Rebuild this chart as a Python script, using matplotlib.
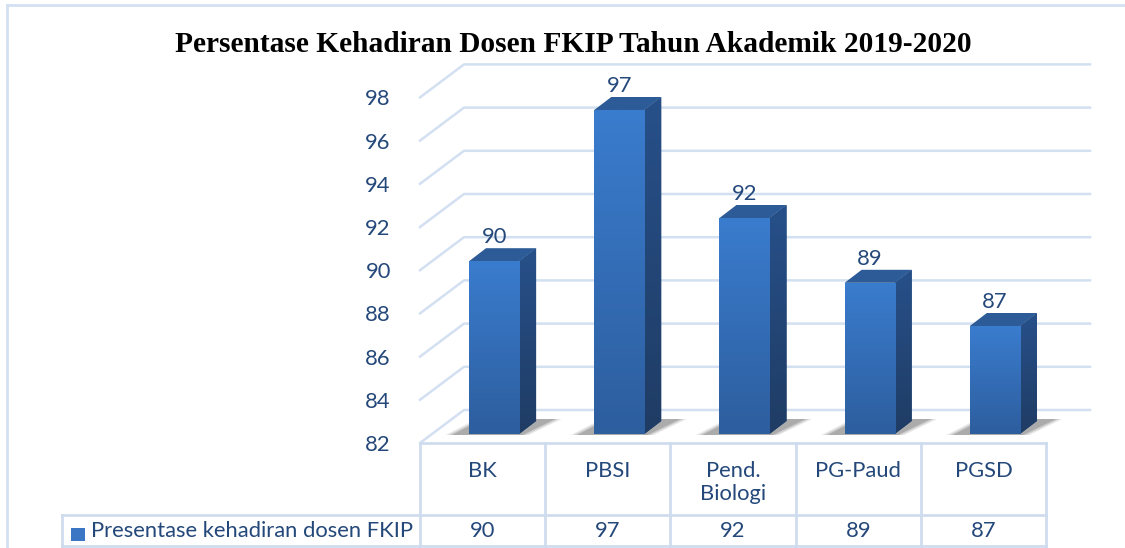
import numpy as np
import matplotlib
matplotlib.use("Agg")
import matplotlib.pyplot as plt
from matplotlib.patches import Polygon, Rectangle
from matplotlib.lines import Line2D
from matplotlib.colors import LinearSegmentedColormap

# data
categories = ["BK", "PBSI", "Pend.\nBiologi", "PG-Paud", "PGSD"]
values = [90, 97, 92, 89, 87]
series_name = "Presentase kehadiran dosen FKIP"
title = "Persentase Kehadiran Dosen FKIP Tahun Akademik 2019-2020"
yticks = list(range(82, 99, 2))

W, H = 1125, 548
txt_col = "#24487a"
grid_col = "#d3e0f1"
font = "Lato"
fs = 15.8

fig = plt.figure(figsize=(W / 100, H / 100), dpi=100)
# front plot area in pixels: x 420..1046, y 443..97
ax_l, ax_r, ax_b, ax_t = 420, 1046, 443, 97.4
ax = fig.add_axes([ax_l / W, 1 - ax_b / H, (ax_r - ax_l) / W, (ax_b - ax_t) / H])
ax.set_xlim(-0.5, 4.5)
ax.set_ylim(82, 98)
for s in ax.spines.values():
    s.set_visible(False)
ax.set_xticks([])
ax.set_yticks(yticks)
ax.tick_params(axis="y", length=0, pad=21, labelsize=fs, labelcolor=txt_col)
for lab in ax.get_yticklabels():
    lab.set_fontfamily(font)
ax.patch.set_alpha(0)

# pixel -> data unit helpers
ppx = (ax_r - ax_l) / 5.0
ppy = (ax_b - ax_t) / 16.0
def dx(px):
    return px / ppx
def dy(px):
    return px / ppy

# depth of the 3d box
DX, DY = dx(44), dy(33)

# walls / gridlines
for t in yticks:
    ax.add_line(Line2D([-0.5, -0.5 + DX, 4.5 + DX], [t, t + DY, t + DY],
                       color=grid_col, lw=1.8, clip_on=False, zorder=1))

# bars
bw = 0.4
fx, fy = dx(11.5), dy(9)      # front face offset inside the box
bdx, bdy = dx(17), dy(13)     # bar depth
grad = np.linspace(0, 1, 256).reshape(-1, 1)
front_cmap = LinearSegmentedColormap.from_list("f", ["#2d5e9e", "#3a7cce"])
side_cmap = LinearSegmentedColormap.from_list("s", ["#1f3c64", "#27508a"])

for i, v in enumerate(values):
    x0 = i - bw / 2 + fx
    x1 = i + bw / 2 + fx
    y0 = 82 + fy
    y1 = v + fy
    # soft shadow on floor
    for k, a in enumerate([0.12, 0.16, 0.22]):
        g = (3 - k) * 0.025
        sh = Polygon([(x0 - dx(14) - g, y0 - dy(1)), (x1 + g, y0 - dy(1)),
                      (x1 + bdx + dx(16) + g, y0 + bdy + dy(2)),
                      (x0 + bdx - g, y0 + bdy + dy(2))],
                     closed=True, facecolor="#3a3a3a", edgecolor="none",
                     alpha=a, clip_on=False, zorder=2)
        ax.add_patch(sh)
    # side face
    side = Polygon([(x1, y0), (x1 + bdx, y0 + bdy), (x1 + bdx, y1 + bdy), (x1, y1)],
                   closed=True, facecolor="#22467a", edgecolor="none",
                   clip_on=False, zorder=3)
    ax.add_patch(side)
    im = ax.imshow(grad, cmap=side_cmap, extent=(x1, x1 + bdx, y0, y1 + bdy),
                   origin="lower", aspect="auto", zorder=3)
    im.set_clip_path(side)
    # top face
    top = Polygon([(x0, y1), (x1, y1), (x1 + bdx, y1 + bdy), (x0 + bdx, y1 + bdy)],
                  closed=True, facecolor="#2c5b97", edgecolor="none",
                  clip_on=False, zorder=4)
    ax.add_patch(top)
    # front face with gradient
    front = Rectangle((x0, y0), x1 - x0, y1 - y0, facecolor="#3470b8",
                      edgecolor="none", clip_on=False, zorder=4)
    ax.add_patch(front)
    im = ax.imshow(grad, cmap=front_cmap, extent=(x0, x1, y0, y1),
                   origin="lower", aspect="auto", zorder=4)
    im.set_clip_path(front)
    # data label
    ax.text((x0 + x1) / 2, y1 + dy(14), str(v), ha="center", va="bottom",
            fontsize=fs, color=txt_col, fontfamily=font, zorder=5)

ax.set_xlim(-0.5, 4.5)
ax.set_ylim(82, 98)

# data table under the plot
hdr_bot = 82 - dy(72)
row_bot = 82 - dy(103)
leg_left = -0.5 - dx(358)
tbl_col = "#cfdcee"
lk = dict(color=tbl_col, lw=2, clip_on=False, zorder=1)
ax.add_line(Line2D([-0.5, 4.5], [82, 82], **lk))
ax.add_line(Line2D([leg_left, 4.5], [hdr_bot, hdr_bot], **lk))
ax.add_line(Line2D([leg_left, 4.5], [row_bot, row_bot], **lk))
ax.add_line(Line2D([leg_left, leg_left], [hdr_bot, row_bot], **lk))
for k in range(6):
    ax.add_line(Line2D([k - 0.5, k - 0.5], [82, row_bot], **lk))

for i, (c, v) in enumerate(zip(categories, values)):
    ax.text(i, 82 - dy(18), c, ha="center", va="top", fontsize=fs,
            color=txt_col, fontfamily=font, linespacing=1.2)
    ax.text(i, (hdr_bot + row_bot) / 2 - dy(1), str(v), ha="center", va="center",
            fontsize=fs, color=txt_col, fontfamily=font)

ax.add_patch(Rectangle((leg_left + dx(9), row_bot + dy(5)), dx(14), dy(13),
                       facecolor="#3a76c4", edgecolor="none", clip_on=False))
ax.text(leg_left + dx(29), (hdr_bot + row_bot) / 2 - dy(1), series_name,
        ha="left", va="center", fontsize=fs, color=txt_col, fontfamily=font)

# outer chart border
fig.add_artist(Line2D([7 / W, 7 / W], [0, 1 - 5 / H], color=grid_col, lw=2,
                      transform=fig.transFigure))
fig.add_artist(Line2D([7 / W, 1], [1 - 5 / H, 1 - 5 / H], color=grid_col, lw=2,
                      transform=fig.transFigure))

fig.text(573 / W, 1 - 45 / H, title, ha="center", va="center", fontsize=21.2,
         fontweight="bold", fontfamily="Liberation Serif", color="black")

fig.savefig("out.png", dpi=100)
